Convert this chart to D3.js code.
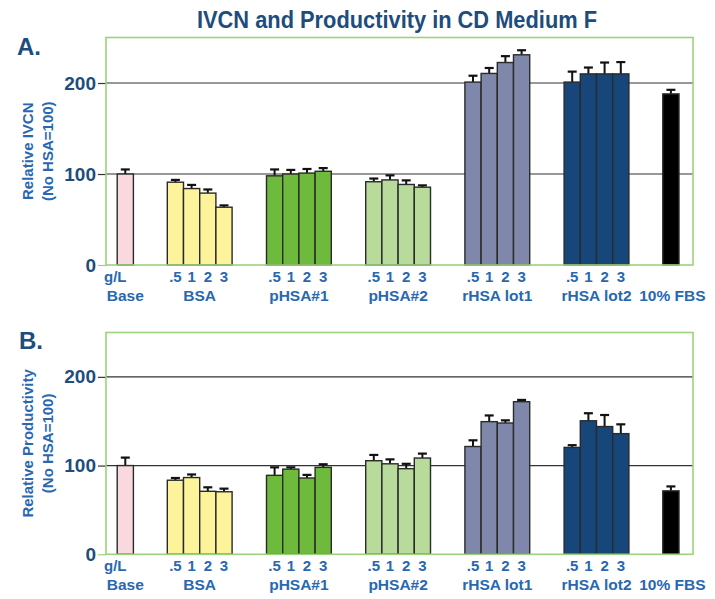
<!DOCTYPE html>
<html>
<head>
<meta charset="utf-8">
<script src="https://cdn.jsdelivr.net/npm/d3@7"></script>
<style>
  html, body { margin: 0; padding: 0; background: #fff; }
  svg { display: block; }
</style>
</head>
<body>
<svg id="chart" width="715" height="599"></svg>
<script>
// ---------- DATA ----------
const groups = ["BSA", "pHSA#1", "pHSA#2", "rHSA lot1", "rHSA lot2"];
const doses = [".5", "1", "2", "3"];
const yTicks = [0, 100, 200];

// Panel A: Relative IVCN
const ivcnBase = 100, ivcnBaseErr = 5;
const ivcnBSA = [91, 84, 79, 63.5];
const ivcnBSAErr = [2.5, 4, 4, 2];
const ivcnPHSA1 = [98, 100, 101, 103];
const ivcnPHSA1Err = [7, 4.5, 4.5, 3.5];
const ivcnPHSA2 = [91.5, 93.5, 88.5, 85.5];
const ivcnPHSA2Err = [3.5, 5, 4.5, 2];
const ivcnRHSA1 = [201, 210.5, 222.5, 231];
const ivcnRHSA1Err = [7, 6, 7, 5];
const ivcnRHSA2 = [201, 210, 210, 210];
const ivcnRHSA2Err = [11.5, 7, 12.5, 13];
const ivcnFBS = 188, ivcnFBSErr = 4.5;

// Panel B: Relative Productivity
const prodBase = 100, prodBaseErr = 9;
const prodBSA = [83.5, 86.5, 71, 70.5];
const prodBSAErr = [2.5, 3.5, 4.5, 3.5];
const prodPHSA1 = [89, 96, 86, 98];
const prodPHSA1Err = [9, 2, 3.5, 3.5];
const prodPHSA2 = [105.5, 102, 96.5, 108.5];
const prodPHSA2Err = [6.5, 5, 5.5, 5];
const prodRHSA1 = [121.5, 149.5, 148, 172];
const prodRHSA1Err = [7, 7, 3, 2];
const prodRHSA2 = [120.5, 150.5, 144, 136];
const prodRHSA2Err = [2.5, 8.5, 13, 10.5];
const prodFBS = 71.5, prodFBSErr = 5;

// ---------- STYLE ----------
const groupColors = ["#fdf39b", "#6dba3d", "#b8db9b", "#7f88ab", "#16467a"];
const baseColor = "#f9d8de";
const fbsColor = "#000000";
const frameGreen = "#9bd27b";
const darkBlue = "#1d4d7c";
const labelBlue = "#2868b0";

const svg = d3.select("#chart");
const left = 106, right = 693;
const barW = 16.2;
const font = "Liberation Sans, Arial, sans-serif";

// group center positions
const gx = d3.scaleLinear().domain([0, 4]).range([199.7, 596.5]);
const inner = d3.scaleBand().domain(doses).range([-2 * barW, 2 * barW]).padding(0);

svg.append("text")
  .attr("x", 197).attr("y", 28)
  .attr("textLength", 400).attr("lengthAdjust", "spacingAndGlyphs")
  .attr("font-family", font)
  .attr("font-weight", "bold").attr("font-size", 23)
  .attr("fill", darkBlue)
  .text("IVCN and Productivity in CD Medium F");

function panel(cfg) {
  const g = svg.append("g");
  const y = d3.scaleLinear().domain([0, 250]).range([cfg.bottom, cfg.top]);

  // panel letter
  g.append("text").attr("x", cfg.letterX).attr("y", cfg.letterY)
    .attr("font-family", font)
    .attr("font-weight", "bold").attr("font-size", 24)
    .attr("fill", darkBlue).text(cfg.letter);

  // axis title (two lines, rotated)
  const cy = (cfg.top + cfg.bottom) / 2;
  const t = g.append("text")
    .attr("transform", `translate(0,${cy}) rotate(-90)`)
    .attr("text-anchor", "middle")
    .attr("font-family", font)
    .attr("font-weight", "bold").attr("font-size", 15)
    .attr("fill", labelBlue);
  t.append("tspan").attr("x", 0).attr("y", 33).text(cfg.title1);
  t.append("tspan").attr("x", 0).attr("y", 53).text(cfg.title2);

  // gridlines
  g.selectAll("line.grid").data(yTicks.filter(v => v > 0)).join("line")
    .attr("class", "grid")
    .attr("x1", left).attr("x2", right)
    .attr("y1", d => y(d)).attr("y2", d => y(d))
    .attr("stroke", "#333").attr("stroke-width", 1.2);

  // y axis
  const ax = g.append("g").attr("transform", `translate(${left},0)`)
    .call(d3.axisLeft(y).tickValues(yTicks).tickSize(8).tickPadding(2));
  ax.select(".domain").remove();
  ax.selectAll(".tick line").attr("stroke", d => d === 0 ? frameGreen : "#333").attr("stroke-width", 1.2);
  ax.selectAll(".tick text")
    .attr("font-family", font)
    .attr("font-weight", "bold").attr("font-size", 19)
    .attr("fill", darkBlue);

  // bars data
  const bars = [];
  bars.push({ x: gx(-0.75) - barW / 2, v: cfg.base, e: cfg.baseErr, c: baseColor });
  cfg.vals.forEach((arr, gi) => {
    arr.forEach((v, di) => {
      bars.push({ x: gx(gi) + inner(doses[di]), v, e: cfg.errs[gi][di], c: groupColors[gi] });
    });
  });
  bars.push({ x: gx(4.75) - barW / 2, v: cfg.fbs, e: cfg.fbsErr, c: fbsColor });

  // error bars (upper only)
  const eb = g.selectAll("g.err").data(bars).join("g").attr("class", "err");
  eb.append("line")
    .attr("x1", d => d.x + barW / 2).attr("x2", d => d.x + barW / 2)
    .attr("y1", d => y(d.v)).attr("y2", d => y(d.v + d.e))
    .attr("stroke", "#111").attr("stroke-width", 2);
  eb.append("line")
    .attr("x1", d => d.x + barW / 2 - 4.5).attr("x2", d => d.x + barW / 2 + 4.5)
    .attr("y1", d => y(d.v + d.e)).attr("y2", d => y(d.v + d.e))
    .attr("stroke", "#111").attr("stroke-width", 2.2);

  // bars
  g.selectAll("rect.bar").data(bars).join("rect")
    .attr("class", "bar")
    .attr("x", d => d.x).attr("width", barW)
    .attr("y", d => y(d.v)).attr("height", d => y(0) - y(d.v))
    .attr("fill", d => d.c)
    .attr("stroke", "#2a2a2a").attr("stroke-width", 1.4);

  // frame
  g.append("rect").attr("x", left).attr("y", cfg.top)
    .attr("width", right - left).attr("height", cfg.bottom - cfg.top)
    .attr("fill", "none").attr("stroke", frameGreen).attr("stroke-width", 1.6);

  // x labels
  const lab = g.append("g").attr("font-family", font).attr("font-weight", "bold")
    .attr("fill", labelBlue).attr("text-anchor", "middle");
  groups.forEach((name, gi) => {
    doses.forEach(ds => {
      lab.append("text").attr("x", gx(gi) + inner(ds) + barW / 2)
        .attr("y", cfg.bottom + 17).attr("font-size", 15).text(ds);
    });
    lab.append("text").attr("x", gx(gi)).attr("y", cfg.bottom + 35.5)
      .attr("font-size", 15.5).text(name);
  });
  lab.append("text").attr("x", 104).attr("y", cfg.bottom + 17)
    .attr("text-anchor", "start").attr("font-size", 15).text("g/L");
  lab.append("text").attr("x", gx(-0.75)).attr("y", cfg.bottom + 35.5)
    .attr("font-size", 15.5).text("Base");
  lab.append("text").attr("x", gx(4.75) + 1.5).attr("y", cfg.bottom + 35.5)
    .attr("font-size", 15.5).text("10% FBS");
}

panel({
  top: 37.5, bottom: 265, letter: "A.", letterX: 17, letterY: 55,
  title1: "Relative IVCN", title2: "(No HSA=100)",
  base: ivcnBase, baseErr: ivcnBaseErr, fbs: ivcnFBS, fbsErr: ivcnFBSErr,
  vals: [ivcnBSA, ivcnPHSA1, ivcnPHSA2, ivcnRHSA1, ivcnRHSA2],
  errs: [ivcnBSAErr, ivcnPHSA1Err, ivcnPHSA2Err, ivcnRHSA1Err, ivcnRHSA2Err]
});

panel({
  top: 332.5, bottom: 554.3, letter: "B.", letterX: 19, letterY: 349,
  title1: "Relative Productivity", title2: "(No HSA=100)",
  base: prodBase, baseErr: prodBaseErr, fbs: prodFBS, fbsErr: prodFBSErr,
  vals: [prodBSA, prodPHSA1, prodPHSA2, prodRHSA1, prodRHSA2],
  errs: [prodBSAErr, prodPHSA1Err, prodPHSA2Err, prodRHSA1Err, prodRHSA2Err]
});
</script>
</body>
</html>
